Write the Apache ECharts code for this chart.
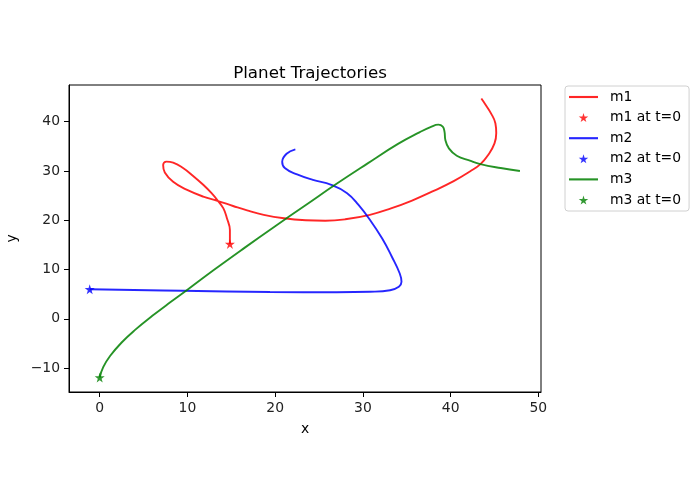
<!DOCTYPE html>
<html>
<head>
<meta charset="utf-8">
<script src="https://cdn.jsdelivr.net/npm/echarts@6/dist/echarts.min.js"></script>
<style>html,body{margin:0;padding:0;background:#fff}#c{width:695px;height:494px}</style>
</head>
<body>
<div id="c"></div>
<script>
const m1x = [14.84, 14.84, 14.5, 14.1, 13.5, 12.75, 11.8, 10.65, 9.5, 8.37, 7.6, 7.23, 7.42, 8.37, 9.9, 11.8, 13.5, 15.2, 16.8, 18.7, 21.0, 23.5, 25.7, 28.0, 30.8, 33.2, 35.6, 38.0, 40.4, 42.2, 43.4, 44.3, 45.0, 45.2, 45.1, 44.6, 44.0, 43.5];
const m1y = [15.2, 18.0, 20.4, 22.4, 23.9, 25.5, 27.2, 29.0, 30.6, 31.7, 31.9, 31.2, 29.7, 27.8, 26.2, 24.8, 23.9, 22.9, 22.0, 21.1, 20.4, 20.0, 19.9, 20.2, 21.1, 22.4, 24.0, 25.9, 28.0, 29.9, 31.4, 33.3, 35.6, 37.7, 39.7, 41.7, 43.4, 44.7];
const m2x = [-1.14, 9.5, 19.4, 27.0, 30.8, 33.1, 34.1, 34.4, 34.2, 33.3, 32.2, 30.8, 29.5, 28.2, 26.4, 24.3, 22.5, 21.1, 20.8, 21.3, 22.3];
const m2y = [6.0, 5.7, 5.45, 5.4, 5.5, 5.8, 6.5, 7.5, 9.2, 12.6, 16.3, 20.1, 23.1, 25.5, 27.2, 28.2, 29.3, 30.6, 31.9, 33.5, 34.4];
const m3x = [0.0, 0.4, 1.2, 2.5, 4.0, 6.0, 8.0, 10.0, 13.0, 16.5, 20.0, 23.5, 27.0, 30.5, 34.0, 36.5, 37.7, 38.6, 39.1, 39.3, 39.4, 39.8, 40.7, 42.2, 43.4, 45.7, 47.9];
const m3y = [-11.9, -9.8, -7.5, -4.8, -2.3, 0.6, 3.3, 5.9, 9.9, 14.4, 18.8, 23.1, 27.4, 31.5, 35.5, 37.9, 38.9, 39.4, 39.0, 38.0, 36.3, 34.6, 33.1, 32.1, 31.4, 30.6, 30.0];
const xTicks = [0, 10, 20, 30, 40, 50];
const yTicks = [-10, 0, 10, 20, 30, 40];
const names = ['m1', 'm2', 'm3'];
const colors = ['#ff0000', '#0000ff', '#008000'];

const STAR = 'path://M50,0 L61,35 L98,35 L68,57 L79,91 L50,70 L21,91 L32,57 L2,35 L39,35 Z';
const LINEICON = 'path://M0,0 L60,0 L60,4.4 L0,4.4 Z';
const pairs = (xs, ys) => xs.map((v, i) => [v, ys[i]]);
const tracks = [pairs(m1x, m1y), pairs(m2x, m2y), pairs(m3x, m3y)];
const font = 'DejaVu Sans';
const fmt = v => String(v).replace('-', '\u2212');

const series = [];
const legendData = [];
tracks.forEach((d, i) => {
  series.push({
    name: names[i], type: 'line', data: d, smooth: 0.45, symbol: 'none',
    lineStyle: { color: colors[i], width: 1.9, opacity: 0.85 }, itemStyle: { color: colors[i], opacity: 0.85 },
    z: 2
  });
  series.push({
    name: names[i] + ' at t=0', type: 'scatter', data: [d[0]], symbol: STAR, symbolSize: 10,
    itemStyle: { color: colors[i] }, z: 3
  });
  legendData.push({ name: names[i], icon: LINEICON, itemStyle: { color: colors[i], opacity: 0.85 } });
  legendData.push({ name: names[i] + ' at t=0', icon: STAR });
});

const chart = echarts.init(document.getElementById('c'), null, { renderer: 'canvas' });
chart.setOption({
  animation: false,
  backgroundColor: '#fff',
  textStyle: { fontFamily: font },
  title: {
    text: 'Planet Trajectories', left: 305, top: 60, textAlign: 'center',
    textStyle: { fontFamily: font, fontSize: 16.7, fontWeight: 'normal', color: '#000' }
  },
  legend: {
    orient: 'vertical', left: 565, top: 86, padding: [4, 8, 4, 4],
    itemWidth: 29, itemHeight: 9, itemGap: 6.6,
    borderColor: '#d0d0d0', borderWidth: 1, borderRadius: 3,
    textStyle: { fontFamily: font, fontSize: 13.9, lineHeight: 14, color: '#000', padding: [0, 0, 0, 7] },
    data: legendData
  },
  grid: {
    left: 69, top: 85, right: 154, bottom: 102, containLabel: false, outerBoundsMode: 'none',
    show: true, borderColor: '#000', borderWidth: 1, backgroundColor: 'transparent'
  },
  xAxis: {
    type: 'value', min: -3.5, max: 50.3, name: 'x', nameLocation: 'middle', nameGap: 30,
    nameTextStyle: { fontFamily: font, fontSize: 13.9, color: '#000' },
    axisLine: { show: true, onZero: false, lineStyle: { color: '#000' } },
    axisTick: { show: true, inside: false, length: 5, customValues: xTicks, lineStyle: { color: '#000' } },
    axisLabel: { customValues: xTicks, fontFamily: font, fontSize: 13.9, color: '#222', margin: 9, formatter: fmt },
    splitLine: { show: false }
  },
  yAxis: {
    type: 'value', min: -14.85, max: 47.45, name: 'y', nameLocation: 'middle', nameGap: 47,
    nameTextStyle: { fontFamily: font, fontSize: 13.9, color: '#000' },
    axisLine: { show: true, onZero: false, lineStyle: { color: '#000' } },
    axisTick: { show: true, inside: false, length: 5, customValues: yTicks, lineStyle: { color: '#000' } },
    axisLabel: { customValues: yTicks, fontFamily: font, fontSize: 13.9, color: '#222', margin: 9, formatter: fmt },
    splitLine: { show: false }
  },
  series: series
});
</script>
</body>
</html>
